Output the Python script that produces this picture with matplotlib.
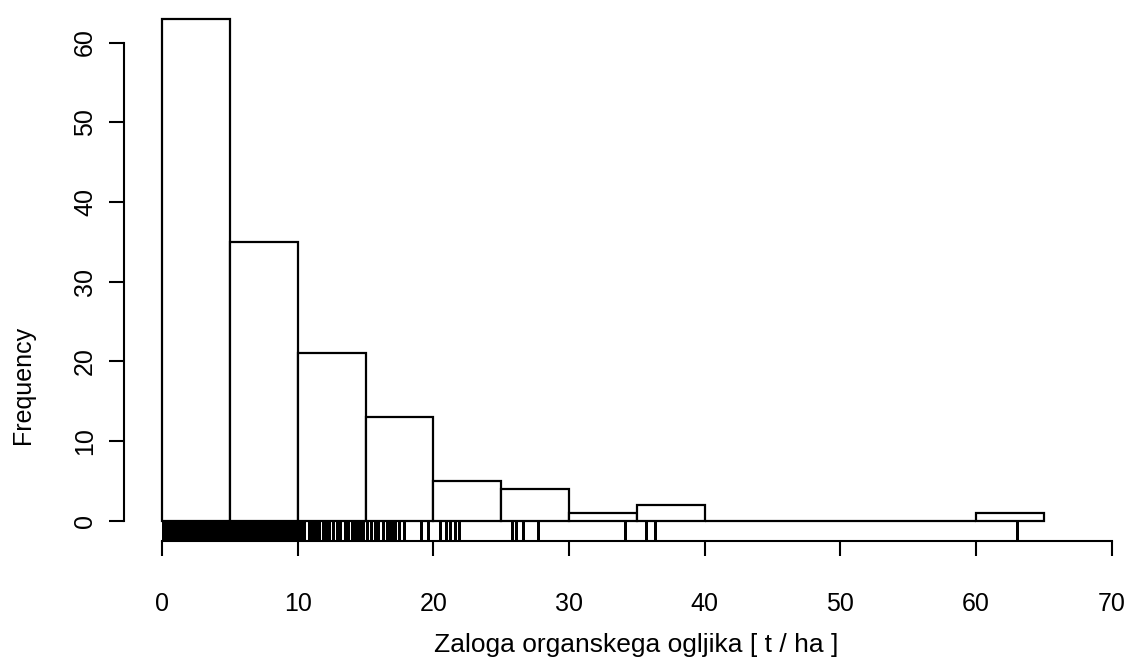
import numpy as np
import matplotlib
matplotlib.use('Agg')
import matplotlib.pyplot as plt

# histogram bins (5 t/ha wide) and counts
breaks = np.arange(0, 70, 5)
counts = [63, 35, 21, 13, 5, 4, 1, 2, 0, 0, 0, 0, 1]

# individual observations shown as a rug under the bars
rug_vals = [
    0.1, 0.15, 0.2, 0.3, 0.35, 0.45, 0.5, 0.6, 0.65, 0.75,
    0.8, 0.9, 1.0, 1.05, 1.15, 1.2, 1.3, 1.4, 1.45, 1.55,
    1.6, 1.7, 1.8, 1.85, 1.95, 2.05, 2.1, 2.2, 2.3, 2.35,
    2.45, 2.55, 2.6, 2.7, 2.8, 2.85, 2.95, 3.05, 3.1, 3.2,
    3.3, 3.35, 3.45, 3.55, 3.6, 3.7, 3.8, 3.85, 3.95, 4.05,
    4.1, 4.2, 4.3, 4.35, 4.45, 4.55, 4.6, 4.7, 4.75, 4.85,
    4.9, 4.95, 4.98,
    5.05, 5.15, 5.25, 5.4, 5.5, 5.6, 5.75, 5.85, 6.0, 6.1,
    6.2, 6.35, 6.5, 6.6, 6.75, 6.9, 7.0, 7.15, 7.3, 7.4,
    7.55, 7.7, 7.85, 8.0, 8.15, 8.3, 8.45, 8.6, 8.8, 8.95,
    9.1, 9.3, 9.5, 9.7, 9.9,
    10.1, 10.3, 10.5, 10.8, 11.0, 11.2, 11.4, 11.6, 11.9, 12.1,
    12.3, 12.6, 12.9, 13.1, 13.5, 13.7, 14.0, 14.2, 14.4, 14.6, 14.8,
    15.1, 15.4, 15.7, 15.9, 16.3, 16.6, 16.8, 17.0, 17.2, 17.5,
    17.8, 19.1, 19.6,
    20.5, 20.9, 21.2, 21.6, 21.9,
    25.8, 26.1, 26.6, 27.7,
    34.1,
    35.7, 36.3,
    63.0,
]

plt.rcParams['font.family'] = ['Liberation Sans', 'DejaVu Sans']

fig = plt.figure(figsize=(11.29, 6.67), dpi=100)
ax = fig.add_axes([124 / 1129, 1 - 541 / 667, (1125 - 124) / 1129, (541 - 10) / 667])
ax.set_xlim(-2.8, 70.97)
ax.set_ylim(-2.52, 64.08)

ax.bar(breaks[:-1], counts, width=5, align='edge', facecolor='white',
       edgecolor='black', linewidth=1.6)
ax.vlines(rug_vals, 0, 0.036, transform=ax.get_xaxis_transform(),
          colors='black', linewidth=0.9, antialiased=False)

ax.spines['top'].set_visible(False)
ax.spines['right'].set_visible(False)
ax.spines['left'].set_bounds(0, 60)
ax.spines['bottom'].set_bounds(0, 70)
ax.spines['left'].set_linewidth(1.5)
ax.spines['bottom'].set_linewidth(1.5)

ax.set_xticks(range(0, 71, 10))
ax.set_yticks(range(0, 61, 10))
ax.tick_params(axis='both', direction='out', length=10.5, width=1.5,
               labelsize=18)
ax.tick_params(axis='x', pad=26)
ax.tick_params(axis='y', pad=9)
plt.setp(ax.get_yticklabels(), rotation=90, va='center')

ax.set_xlabel('Zaloga organskega ogljika [ t / ha ]', fontsize=19, va='center')
ax.set_ylabel('Frequency', fontsize=18, va='center')
ax.xaxis.set_label_coords((636 - 124) / 1001, (541 - 645) / 531)
ax.yaxis.set_label_coords((23 - 124) / 1001, (541 - 385) / 531)

fig.savefig('out.png', dpi=100)
